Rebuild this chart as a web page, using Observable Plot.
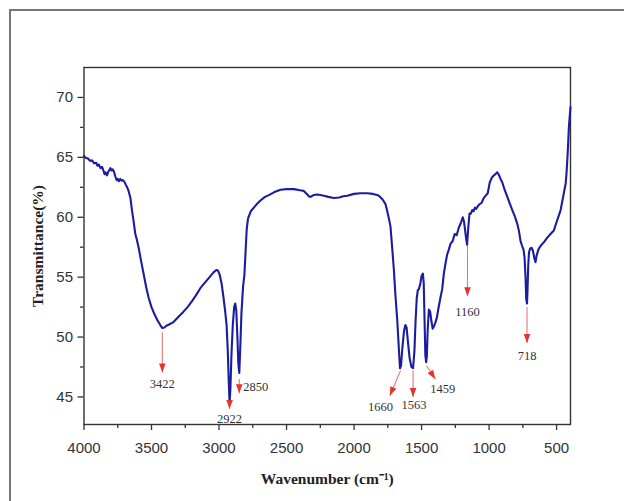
<!DOCTYPE html>
<html>
<head>
<meta charset="utf-8">
<script src="https://cdn.jsdelivr.net/npm/d3@7"></script>
<script src="https://cdn.jsdelivr.net/npm/@observablehq/plot@0.6"></script>
<style>
  html, body { margin: 0; padding: 0; background: #fff; }
  #wrap { position: relative; width: 624px; height: 501px; overflow: hidden; }
  #outer { position: absolute; left: 9px; top: 9px; width: 640px; height: 520px;
           border-left: 2px solid #777; border-top: 2px solid #777; box-sizing: border-box; }
  #chart { position: absolute; left: 0; top: 0; }
</style>
</head>
<body>
<div id="wrap"><div id="outer"></div><div id="chart"></div></div>
<script>
// ---- FTIR spectrum ----
const wavenumber = [
  4000, 3985, 3970, 3955, 3940, 3925, 3910, 3900, 3890, 3878, 3866, 3856, 3848, 3840, 3830, 3820,
  3812, 3804, 3796, 3788, 3778, 3768, 3758, 3750, 3742, 3732, 3722, 3712, 3700, 3690, 3680, 3670,
  3656, 3645, 3633, 3620, 3608, 3596, 3578, 3559, 3540, 3522, 3500, 3478, 3456, 3435, 3420, 3405,
  3390, 3370, 3337, 3300, 3265, 3233, 3200, 3170, 3137, 3100, 3070, 3041, 3020, 3008, 2995, 2980,
  2967, 2955, 2944, 2935, 2928, 2922, 2916, 2908, 2898, 2888, 2880, 2872, 2864, 2857, 2850, 2843,
  2834, 2822, 2812, 2804, 2795, 2785, 2765, 2742, 2720, 2693, 2660, 2631, 2590, 2544, 2500, 2446,
  2400, 2372, 2350, 2335, 2322, 2300, 2273, 2250, 2224, 2190, 2150, 2110, 2080, 2050, 2000, 1952,
  1902, 1860, 1830, 1816, 1790, 1767, 1750, 1740, 1730, 1718, 1705, 1693, 1680, 1668, 1660, 1652,
  1643, 1630, 1620, 1611, 1600, 1588, 1575, 1563, 1553, 1545, 1536, 1528, 1520, 1510, 1500, 1490,
  1484, 1478, 1472, 1466, 1461, 1455, 1446, 1436, 1428, 1418, 1408, 1398, 1387, 1375, 1360, 1347,
  1335, 1322, 1310, 1298, 1285, 1270, 1255, 1240, 1225, 1210, 1195, 1185, 1172, 1163, 1155, 1145,
  1135, 1125, 1115, 1105, 1095, 1085, 1070, 1055, 1040, 1025, 1010, 995, 980, 965, 952, 940,
  930, 915, 902, 885, 865, 845, 828, 810, 791, 778, 767, 755, 745, 737, 730, 725,
  719, 715, 710, 704, 695, 685, 675, 665, 656, 648, 635, 619, 595, 569, 545, 520,
  500, 485, 470, 455, 445, 433, 427, 421, 415, 409, 403, 397
];
const transmittance = [
  65.1, 64.95, 64.9, 64.7, 64.75, 64.5, 64.55, 64.3, 64.4, 64.1, 64.2, 63.9, 63.6, 63.75, 63.5, 63.8,
  63.95, 64.1, 63.9, 64.0, 63.8, 63.4, 63.1, 63.2, 63.0, 63.2, 63.05, 63.1, 62.95, 62.7, 62.5, 62.2,
  61.6, 60.6, 59.7, 58.6, 58.1, 57.5, 56.4, 55.3, 54.2, 53.3, 52.5, 51.9, 51.4, 51.0, 50.75, 50.8,
  50.95, 51.05, 51.25, 51.7, 52.1, 52.5, 53.0, 53.5, 54.1, 54.6, 55.0, 55.4, 55.6, 55.55, 55.2, 54.4,
  53.3, 52.2, 51.0, 48.8, 46.3, 44.5, 45.6, 48.5, 51.0, 52.5, 52.8, 52.2, 50.0, 47.8, 47.0, 49.0,
  52.0, 54.2, 55.2, 57.0, 59.0, 59.9, 60.5, 60.8, 61.1, 61.4, 61.7, 61.85, 62.1, 62.3, 62.35, 62.35,
  62.25, 62.2, 61.95, 61.75, 61.7, 61.85, 61.9, 61.85, 61.8, 61.7, 61.6, 61.65, 61.75, 61.8, 61.95, 62.0,
  62.0, 61.95, 61.85, 61.8, 61.5, 61.1, 60.3, 59.8, 59.2, 57.5, 55.6, 53.4, 51.4, 49.0, 47.4, 47.6,
  49.0, 50.5, 51.0, 50.8, 49.5, 48.2, 47.5, 47.4, 48.8, 51.2, 53.2, 53.9, 54.0, 54.4, 55.1, 55.3,
  54.5, 51.5, 48.5, 47.9, 48.4, 50.5, 52.3, 52.1, 51.4, 50.7, 50.9, 51.2, 51.6, 52.4, 53.3, 54.0,
  55.3, 56.2, 56.9, 57.3, 57.8, 58.0, 58.6, 58.5, 59.1, 59.5, 60.0, 59.6, 58.4, 57.7, 59.0, 60.3,
  60.3, 60.6, 60.5, 60.8, 60.7, 60.9, 61.1, 61.2, 61.6, 61.8, 62.0, 62.9, 63.3, 63.5, 63.6, 63.75,
  63.6, 63.2, 62.9, 62.3, 61.7, 61.1, 60.6, 60.1, 59.45, 58.8, 58.0, 57.6, 57.3, 56.6, 55.0, 53.2,
  52.8, 54.0, 56.0, 57.1, 57.4, 57.45, 57.2, 56.6, 56.25, 56.8, 57.3, 57.6, 57.9, 58.3, 58.6, 58.9,
  59.6, 60.1, 60.6, 61.5, 62.1, 62.8, 63.6, 64.7, 66.0, 67.5, 68.4, 69.2
];

// ---- axis ticks ----
const yTicks = [45, 50, 55, 60, 65, 70];
const yMinorTicks = [47.5, 52.5, 57.5, 62.5, 67.5];
const xTicks = [4000, 3500, 3000, 2500, 2000, 1500, 1000, 500];
const xMinorTicks = [3750, 3250, 2750, 2250, 1750, 1250, 750];

// ---- peak annotations (arrow start, arrow tip, label position in data units) ----
const peakLabels = ["3422", "2922", "2850", "1660", "1563", "1459", "1160", "718"];
const arrowFromW = [3420, 2922, 2850, 1656, 1563, 1463, 1160, 719];
const arrowFromT = [50.4, 44.45, 46.5, 47.2, 47.2, 47.6, 57.6, 52.5];
const arrowToW   = [3420, 2922, 2850, 1735, 1563, 1398, 1160, 719];
const arrowToT   = [47.05, 44.0, 45.3, 45.1, 45.0, 46.5, 53.4, 49.5];
const labelW     = [3420, 2922, 2820, 1804, 1556, 1344, 1160, 719];
const labelT     = [46.1, 43.2, 45.8, 44.15, 44.35, 45.65, 52.05, 48.45];
const labelAnchor = ["middle", "middle", "start", "middle", "middle", "middle", "middle", "middle"];

const spectrum = wavenumber.map((w, i) => ({w, t: transmittance[i]}));
const peaks = peakLabels.map((label, i) => ({
  label, x1: arrowFromW[i], y1: arrowFromT[i], x2: arrowToW[i], y2: arrowToT[i],
  lx: labelW[i], ly: labelT[i], anchor: labelAnchor[i]
}));

const axisColor = "#333";
const serif = "'Liberation Serif', 'Times New Roman', serif";

function arrowHeads(index, scales, values, dimensions, context, next) {
  const g = next(index, scales, values, dimensions, context);
  const X1 = values.x1, Y1 = values.y1, X2 = values.x2, Y2 = values.y2;
  const ns = "http://www.w3.org/2000/svg";
  for (const i of index) {
    const dx = X2[i] - X1[i], dy = Y2[i] - Y1[i];
    const len = Math.hypot(dx, dy) || 1;
    const ux = dx / len, uy = dy / len;
    const L = 9, W = 3.3;
    const bx = X2[i] - ux * L, by = Y2[i] - uy * L;
    const p = document.createElementNS(ns, "path");
    p.setAttribute("d", `M${X2[i]},${Y2[i]}L${bx - uy * W},${by + ux * W}L${bx + uy * W},${by - ux * W}Z`);
    p.setAttribute("fill", "#e3342f");
    p.setAttribute("stroke", "none");
    g.appendChild(p);
  }
  return g;
}

const chart = Plot.plot({
  width: 624,
  height: 501,
  marginLeft: 83.5,
  marginRight: 54,
  marginTop: 67,
  marginBottom: 77,
  x: {domain: [4000, 397]},
  y: {domain: [42.7, 72.5]},
  style: {fontFamily: "'Liberation Sans', Arial, sans-serif", fontSize: "15px", color: axisColor, background: "transparent", overflow: "visible"},
  marks: [
    Plot.frame({stroke: axisColor, strokeWidth: 1.4}),
    Plot.axisY({ticks: yTicks, tickSize: 6, tickPadding: 5, label: null, tickFormat: d => String(d), stroke: axisColor, strokeWidth: 1.3, fontSize: 15}),
    Plot.axisY({ticks: yMinorTicks, tickSize: 3.5, text: null, label: null, stroke: axisColor, strokeWidth: 1.3}),
    Plot.axisX({ticks: xTicks, tickSize: 6, tickPadding: 12, label: null, tickFormat: d => String(d), stroke: axisColor, strokeWidth: 1.3, fontSize: 15}),
    Plot.axisX({ticks: xMinorTicks, tickSize: 4, text: null, label: null, stroke: axisColor, strokeWidth: 1.3}),
    Plot.line(spectrum, {x: "w", y: "t", stroke: "#1c1ca0", strokeWidth: 2.1, strokeLinejoin: "round"}),
    Plot.link(peaks, {x1: "x1", y1: "y1", x2: "x2", y2: "y2", stroke: "#e07a78", strokeWidth: 1.1, render: arrowHeads}),
    Plot.text(peaks.filter(d => d.anchor === "middle"), {x: "lx", y: "ly", text: "label", textAnchor: "middle", fontFamily: serif, fontSize: 12.5, fill: "#333"}),
    Plot.text(peaks.filter(d => d.anchor === "start"), {x: "lx", y: "ly", text: "label", textAnchor: "start", fontFamily: serif, fontSize: 12.5, fill: "#333"}),
    Plot.text(["Transmittance(%)"], {text: d => d, frameAnchor: "left", textAnchor: "middle", dx: -46, rotate: -90, fontFamily: serif, fontWeight: "bold", fontSize: 15.5, fill: "#222"}),
    Plot.text(["Wavenumber (cm\u207B\u00B9)"], {text: d => d, frameAnchor: "bottom", textAnchor: "middle", dy: 59, fontFamily: serif, fontWeight: "bold", fontSize: 15.5, fill: "#222"})
  ]
});
document.getElementById("chart").appendChild(chart);
</script>
</body>
</html>
